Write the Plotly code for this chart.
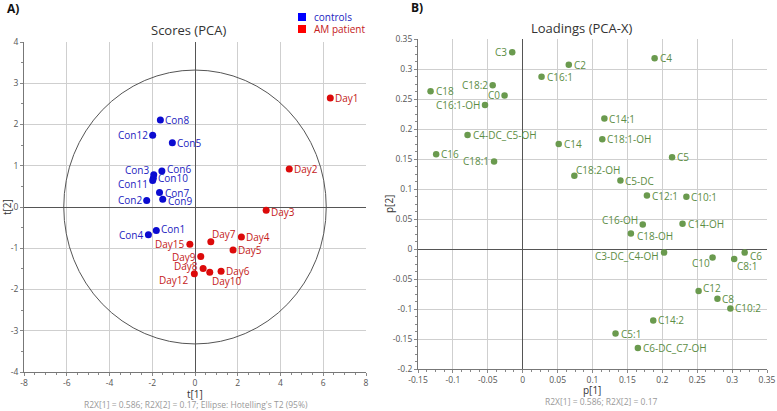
import plotly.graph_objects as go

W, H = 777, 411

# ---------------- Scores (PCA) data ----------------
control_names = ["Con1", "Con2", "Con3", "Con4", "Con5", "Con6", "Con7", "Con8",
                 "Con9", "Con10", "Con11", "Con12"]
control_t1 = [-1.81, -2.26, -1.93, -2.18, -1.06, -1.55, -1.66, -1.62, -1.51, -1.95, -1.98, -1.98]
control_t2 = [-0.57, 0.16, 0.78, -0.67, 1.56, 0.87, 0.35, 2.11, 0.19, 0.70, 0.64, 1.74]

patient_names = ["Day1", "Day2", "Day3", "Day4", "Day5", "Day6", "Day7", "Day8",
                 "Day9", "Day10", "Day12", "Day15"]
patient_t1 = [6.33, 4.41, 3.33, 2.17, 1.78, 1.22, 0.74, 0.38, 0.27, 0.69, -0.03, -0.24]
patient_t2 = [2.64, 0.92, -0.08, -0.73, -1.04, -1.56, -0.84, -1.49, -1.20, -1.58, -1.62, -0.90]

# Hotelling's T2 (95%) ellipse semi-axes
ellipse_t1 = 6.14
ellipse_t2 = 3.32

score_xticks = [-8, -6, -4, -2, 0, 2, 4, 6, 8]
score_xticktext = ["-8", "-6", "-4", "-2", "0", "2", "4", "6", "8"]
score_yticks = [-4, -3, -2, -1, 0, 1, 2, 3, 4]
score_yticktext = ["-4", "-3", "-2", "-1", "0", "1", "2", "3", "4"]

# ---------------- Loadings (PCA-X) data ----------------
load_names = ["C0", "C2", "C3", "C4", "C5", "C5:1", "C5-DC", "C6", "C8", "C8:1",
              "C10", "C10:1", "C10:2", "C12", "C12:1", "C14", "C14:1", "C14:2",
              "C14-OH", "C16", "C16:1", "C16:1-OH", "C16-OH", "C18", "C18:1",
              "C18:1-OH", "C18:2", "C18:2-OH", "C18-OH", "C3-DC_C4-OH",
              "C4-DC_C5-OH", "C6-DC_C7-OH"]
load_p1 = [-0.026, 0.066, -0.015, 0.189, 0.214, 0.133, 0.140, 0.318, 0.279, 0.303,
           0.272, 0.2345, 0.2975, 0.252, 0.178, 0.0516, 0.117, 0.187,
           0.229, -0.124, 0.027, -0.054, 0.172, -0.132, -0.041,
           0.114, -0.043, 0.074, 0.155, 0.2025,
           -0.079, 0.165]
load_p2 = [0.256, 0.307, 0.328, 0.318, 0.153, -0.141, 0.114, -0.006, -0.083, -0.0165,
           -0.014, 0.087, -0.099, -0.070, 0.089, 0.175, 0.2175, -0.119,
           0.042, 0.158, 0.287, 0.240, 0.041, 0.263, 0.146,
           0.183, 0.273, 0.122, 0.026, -0.006,
           0.190, -0.165]

load_xticks = [-0.15, -0.1, -0.05, 0, 0.05, 0.1, 0.15, 0.2, 0.25, 0.3, 0.35]
load_xticktext = ["-0.15", "-0.1", "-0.05", "0", "0.05", "0.1", "0.15", "0.2", "0.25", "0.3", "0.35"]
load_yticks = [-0.2, -0.15, -0.1, -0.05, 0, 0.05, 0.1, 0.15, 0.2, 0.25, 0.3, 0.35]
load_yticktext = ["-0.2", "-0.15", "-0.1", "-0.05", "0", "0.05", "0.1", "0.15", "0.2", "0.25", "0.3", "0.35"]

# ---------------- styles ----------------
FONT = "Open Sans"
BLUE_DOT, BLUE_TXT = "#0b0bd0", "#2323c0"
RED_DOT, RED_TXT = "#dc0a0a", "#c42020"
GREEN_DOT, GREEN_TXT = "#6a9a4e", "#5c8d44"

# label placement: name -> (anchor, xshift, yshift)
DEFAULT_R = ("left", 3, 0)
DEFAULT_L = ("right", -3, 0)
label_style = {
    "Con12": DEFAULT_L, "Con2": DEFAULT_L, "Con4": DEFAULT_L,
    "Con3": ("right", -3, 5), "Con11": ("right", -3, -3),
    "Con6": ("left", 3, 2), "Con9": ("left", 3, -2), "Con1": ("left", 3, 2),
    "Day3": ("left", 3, -2), "Day15": DEFAULT_L, "Day9": DEFAULT_L,
    "Day8": ("right", -3, 2), "Day12": ("right", -3, -6),
    "Day7": ("left", -1, 8), "Day10": ("left", 0, -9),
    "C3": DEFAULT_L, "C18:2": DEFAULT_L, "C0": DEFAULT_L, "C16:1-OH": DEFAULT_L,
    "C18:1": DEFAULT_L, "C16-OH": ("right", -3, 4), "C3-DC_C4-OH": ("right", -3, -3),
    "C6": ("left", 3, -3), "C18:2-OH": ("left", 0, 6), "C18-OH": ("left", 4, -3),
    "C10": ("right", -1, -6), "C8:1": ("left", 1, -7), "C12": ("left", 2, 3),
}


def px_x(p):
    return p / W


def px_y(p):
    return 1 - p / H


fig = go.Figure()

fig.add_trace(go.Scatter(x=control_t1, y=control_t2, mode="markers",
                         marker=dict(color=BLUE_DOT, size=7), xaxis="x", yaxis="y",
                         showlegend=False, hoverinfo="skip"))
fig.add_trace(go.Scatter(x=patient_t1, y=patient_t2, mode="markers",
                         marker=dict(color=RED_DOT, size=7), xaxis="x", yaxis="y",
                         showlegend=False, hoverinfo="skip"))
fig.add_trace(go.Scatter(x=load_p1, y=load_p2, mode="markers",
                         marker=dict(color=GREEN_DOT, size=6.5), xaxis="x2", yaxis="y2",
                         showlegend=False, hoverinfo="skip"))

annotations = []


def add_labels(names, xs, ys, color, xref, yref):
    for n, xv, yv in zip(names, xs, ys):
        anchor, dx, dy = label_style.get(n, DEFAULT_R)
        annotations.append(dict(x=xv, y=yv, xref=xref, yref=yref, text=n,
                                showarrow=False, xanchor=anchor, yanchor="middle",
                                xshift=dx, yshift=dy,
                                font=dict(family=FONT, size=10, color=color)))


add_labels(control_names, control_t1, control_t2, BLUE_TXT, "x", "y")
add_labels(patient_names, patient_t1, patient_t2, RED_TXT, "x", "y")
add_labels(load_names, load_p1, load_p2, GREEN_TXT, "x2", "y2")


def text_ann(txt, x, y, size, color="#333", anchor="center", bold=False, angle=0):
    annotations.append(dict(x=px_x(x), y=px_y(y), xref="paper", yref="paper",
                            text=("<b>%s</b>" % txt) if bold else txt,
                            showarrow=False, xanchor=anchor, yanchor="middle",
                            textangle=angle,
                            font=dict(family=FONT, size=size, color=color)))


text_ann("A)", 5, 9, 12, "#111", anchor="left", bold=True)
text_ann("B)", 409, 8, 12, "#111", anchor="left", bold=True)
text_ann("Scores (PCA)", 188, 30, 13, "#333")
text_ann("Loadings (PCA-X)", 581, 28, 13, "#333")
text_ann("t[1]", 195, 394, 10, "#333")
text_ann("t[2]", 7, 207, 10, "#333", angle=-90)
text_ann("p[1]", 592, 390, 10, "#333")
text_ann("p[2]", 389, 204, 10, "#333", angle=-90)
text_ann("R2X[1] = 0.586; R2X[2] = 0.17; Ellipse: Hotelling's T2 (95%)", 196, 404, 8.5, "#999")
text_ann("R2X[1] = 0.586; R2X[2] = 0.17", 601, 401, 8.5, "#999")
text_ann("controls", 312, 17, 10, BLUE_TXT, anchor="left")
text_ann("AM patient", 312, 29, 10, RED_TXT, anchor="left")

shapes = [
    dict(type="circle", xref="x", yref="y", x0=-ellipse_t1, x1=ellipse_t1,
         y0=-ellipse_t2, y1=ellipse_t2, line=dict(color="#555", width=1)),
    dict(type="rect", xref="paper", yref="paper", x0=px_x(298), x1=px_x(306),
         y0=px_y(21), y1=px_y(13), fillcolor="#0000ff", line=dict(width=0)),
    dict(type="rect", xref="paper", yref="paper", x0=px_x(298), x1=px_x(306),
         y0=px_y(33), y1=px_y(25), fillcolor="#ff0000", line=dict(width=0)),
]

axis_common = dict(showgrid=True, gridcolor="#cfcfcf", gridwidth=1,
                   zeroline=True, zerolinecolor="#555", zerolinewidth=1,
                   showline=True, linecolor="#777", linewidth=1, mirror=False,
                   ticks="outside", ticklen=3, tickcolor="#888",
                   tickfont=dict(family=FONT, size=8.5, color="#555"),
                   tickmode="array", fixedrange=True, automargin=False)

fig.update_layout(
    template="none",
    width=W, height=H, margin=dict(l=0, r=0, t=0, b=0, pad=0, autoexpand=False),
    paper_bgcolor="white", plot_bgcolor="white",
    showlegend=False,
    xaxis=dict(axis_common, domain=[px_x(24), px_x(366)], range=[-8, 8],
               tickvals=score_xticks, ticktext=score_xticktext, anchor="y",
               minor=dict(ticks="outside", ticklen=2, tickcolor="#888", dtick=0.5, showgrid=False)),
    yaxis=dict(axis_common, domain=[px_y(372), px_y(42)], range=[-4, 4],
               tickvals=score_yticks, ticktext=score_yticktext, anchor="x",
               minor=dict(ticks="outside", ticklen=2, tickcolor="#888", dtick=0.5, showgrid=False)),
    xaxis2=dict(axis_common, domain=[px_x(418), px_x(767)], range=[-0.15, 0.35],
                tickvals=load_xticks, ticktext=load_xticktext, anchor="y2",
                minor=dict(ticks="outside", ticklen=2, tickcolor="#888", dtick=0.0125, showgrid=False)),
    yaxis2=dict(axis_common, domain=[px_y(369), px_y(39)], range=[-0.2, 0.35],
                tickvals=load_yticks, ticktext=load_yticktext, anchor="x2",
                minor=dict(ticks="outside", ticklen=2, tickcolor="#888", dtick=0.0125, showgrid=False)),
    annotations=annotations,
    shapes=shapes,
)

fig.write_html("out.html", config={"displayModeBar": False},
               post_script="document.body.style.margin='0';document.body.style.overflow='hidden';")
